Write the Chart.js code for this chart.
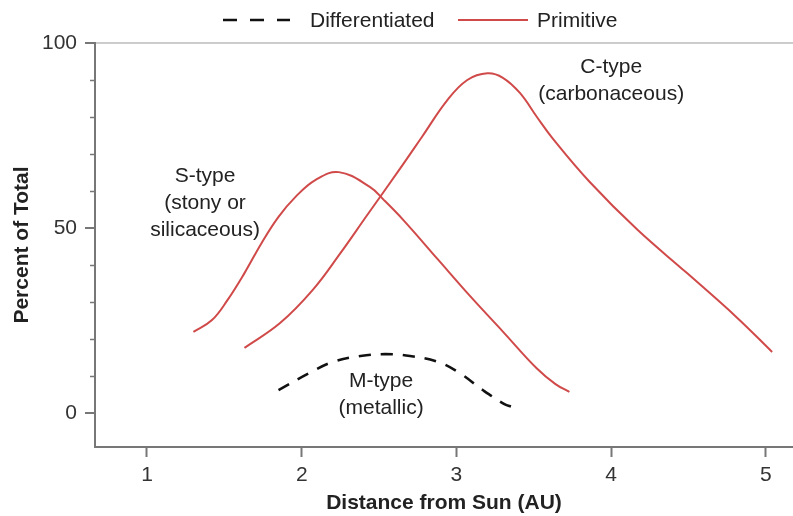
<!DOCTYPE html>
<html>
<head>
<meta charset="utf-8">
<script src="https://cdn.jsdelivr.net/npm/chart.js@4/dist/chart.umd.min.js"></script>
<style>
  html, body { margin: 0; padding: 0; background: #fff; }
  #wrap { width: 793px; height: 516px; }
</style>
</head>
<body>
<div id="wrap"><canvas id="asteroidChart"></canvas></div>
<script>
// Asteroid types vs distance from Sun

const xTicks = [1, 2, 3, 4, 5];
const yTicks = [0, 50, 100];
const yMinorTicks = [10, 20, 30, 40, 60, 70, 80, 90];

// M-type (differentiated)
const mDist = [1.85, 2.05, 2.20, 2.38, 2.54, 2.70, 2.88, 3.02, 3.17, 3.31, 3.36];
const mPct  = [6.2, 10.8, 13.8, 15.4, 15.9, 15.4, 13.8, 10.8, 6.2, 2.4, 1.6];

// S-type (primitive)
const sDist = [1.30, 1.42, 1.52, 1.63, 1.74, 1.85, 1.96, 2.09, 2.24, 2.44, 2.53, 2.66, 2.88, 3.09, 3.30, 3.52, 3.64, 3.73];
const sPct  = [21.9, 25.1, 30.5, 37.8, 45.9, 53.0, 58.4, 63.0, 65.1, 61.1, 57.6, 52.0, 41.5, 31.5, 22.0, 12.0, 7.8, 5.7];

// C-type (primitive)
const cDist = [1.63, 1.86, 2.07, 2.25, 2.42, 2.64, 2.78, 2.94, 3.07, 3.20, 3.30, 3.41, 3.52, 3.62, 3.86, 4.17, 4.49, 4.81, 5.04];
const cPct  = [17.6, 24.3, 33.2, 43.2, 53.3, 66.3, 74.8, 84.5, 90.0, 91.8, 90.6, 86.5, 80.0, 74.3, 62.5, 49.5, 37.8, 25.9, 16.5];

const labelNotes = [
    { lines: ['S-type', '(stony or', 'silicaceous)'], x: 1.375, y: 64.1 },
    { lines: ['C-type', '(carbonaceous)'], x: 4.0, y: 93.5 },
    { lines: ['M-type', '(metallic)'], x: 2.513, y: 8.6 }
];

const red = '#d04a4a';
const axisGrey = '#777';
const font = "'Liberation Sans', Arial, sans-serif";
const fontSize = 21;

function toPoints(xs, ys) {
    return xs.map((x, i) => ({ x, y: ys[i] }));
}

// legend drawn by hand so the spacing matches the figure
const legendSlots = [
    { dataset: 0, lineFrom: 223, lineTo: 290, textX: 310 },
    { dataset: 1, lineFrom: 458, lineTo: 528, textX: 537 }
];

const legendPlugin = {
    id: 'figLegend',
    afterDraw(chart) {
        const ctx = chart.ctx;
        const y = 20;
        ctx.save();
        legendSlots.forEach(slot => {
            const ds = chart.data.datasets[slot.dataset];
            ctx.strokeStyle = ds.borderColor;
            ctx.lineWidth = ds.borderWidth;
            ctx.setLineDash(ds.borderDash ? [14, 13] : []);
            ctx.beginPath();
            ctx.moveTo(slot.lineFrom, y);
            ctx.lineTo(slot.lineTo, y);
            ctx.stroke();
            ctx.setLineDash([]);
            ctx.fillStyle = '#222';
            ctx.font = fontSize + 'px ' + font;
            ctx.textAlign = 'left';
            ctx.textBaseline = 'middle';
            ctx.fillText(ds.label, slot.textX, y + 1);
        });
        ctx.restore();
    }
};

const notesPlugin = {
    id: 'notes',
    afterDatasetsDraw(chart) {
        const { ctx, scales } = chart;
        ctx.save();
        ctx.fillStyle = '#222';
        ctx.font = fontSize + 'px ' + font;
        ctx.textAlign = 'center';
        ctx.textBaseline = 'middle';
        labelNotes.forEach(n => {
            const px = scales.x.getPixelForValue(n.x);
            const py = scales.y.getPixelForValue(n.y);
            n.lines.forEach((line, i) => ctx.fillText(line, px, py + i * 27));
        });
        ctx.restore();
    }
};

const minorTicksPlugin = {
    id: 'minorTicks',
    afterDraw(chart) {
        const { ctx, scales } = chart;
        const left = scales.y.right;
        ctx.save();
        ctx.strokeStyle = axisGrey;
        ctx.lineWidth = 1.5;
        yMinorTicks.forEach(v => {
            const py = Math.round(scales.y.getPixelForValue(v)) + 0.5;
            ctx.beginPath();
            ctx.moveTo(left - 5, py);
            ctx.lineTo(left, py);
            ctx.stroke();
        });
        ctx.restore();
    }
};

new Chart(document.getElementById('asteroidChart'), {
    type: 'line',
    data: {
        datasets: [
            {
                label: 'Differentiated',
                data: toPoints(mDist, mPct),
                borderColor: '#111',
                borderWidth: 2.6,
                borderDash: [12, 10],
                pointRadius: 0,
                tension: 0.4
            },
            {
                label: 'Primitive',
                data: toPoints(sDist, sPct),
                borderColor: red,
                borderWidth: 2,
                pointRadius: 0,
                tension: 0.4
            },
            {
                label: 'C-type',
                data: toPoints(cDist, cPct),
                borderColor: red,
                borderWidth: 2,
                pointRadius: 0,
                tension: 0.4
            }
        ]
    },
    options: {
        responsive: true,
        maintainAspectRatio: false,
        animation: false,
        layout: { padding: { left: 10, right: 0, top: 43, bottom: 0 } },
        plugins: {
            legend: { display: false },
            tooltip: { enabled: false }
        },
        scales: {
            x: {
                type: 'linear',
                min: 0.664,
                max: 5.175,
                afterBuildTicks: axis => { axis.ticks = xTicks.map(v => ({ value: v })); },
                afterFit: axis => { axis.height = 69; },
                border: { color: axisGrey, width: 2 },
                grid: { drawOnChartArea: false, tickLength: 10, tickColor: axisGrey, tickWidth: 2 },
                ticks: { color: '#333', font: { family: font, size: fontSize }, padding: 6 },
                title: {
                    display: true,
                    text: 'Distance from Sun (AU)',
                    color: '#222',
                    font: { family: font, size: fontSize, weight: 'bold' },
                    padding: { top: 2, bottom: 0 }
                }
            },
            y: {
                min: -9.2,
                max: 100,
                afterBuildTicks: axis => { axis.ticks = yTicks.map(v => ({ value: v })); },
                afterFit: axis => { axis.width = 85; },
                border: { color: axisGrey, width: 2 },
                grid: {
                    color: ctx => ctx.tick && ctx.tick.value === 100 ? '#ccc' : 'rgba(0,0,0,0)',
                    lineWidth: 2,
                    tickLength: 10,
                    tickColor: axisGrey,
                    tickWidth: 2
                },
                ticks: { color: '#333', font: { family: font, size: fontSize }, padding: 8 },
                title: {
                    display: true,
                    text: 'Percent of Total',
                    color: '#222',
                    font: { family: font, size: fontSize, weight: 'bold' },
                    padding: { top: 0, bottom: 4 }
                }
            }
        }
    },
    plugins: [notesPlugin, minorTicksPlugin, legendPlugin]
});
</script>
</body>
</html>
